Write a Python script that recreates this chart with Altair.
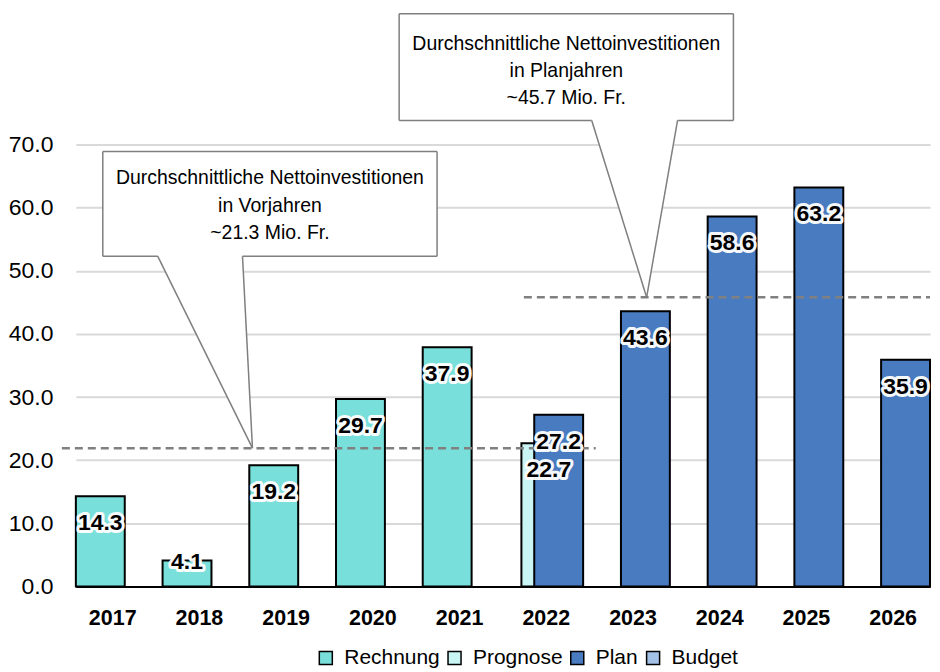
import altair as alt
import pandas as pd

# ---------------- data ----------------
years = ["2017", "2018", "2019", "2020", "2021", "2022", "2023", "2024", "2025", "2026"]
rechnung_years = ["2017", "2018", "2019", "2020", "2021"]
rechnung_values = [14.3, 4.1, 19.2, 29.7, 37.9]
prognose_years = ["2022"]
prognose_values = [22.7]
plan_years = ["2022", "2023", "2024", "2025", "2026"]
plan_values = [27.2, 43.6, 58.6, 63.2, 35.9]
series = ["Rechnung", "Prognose", "Plan", "Budget"]
series_colors = ["#79dfda", "#c9f6f4", "#497bc0", "#a3c0e6"]
y_ticks = [0, 10, 20, 30, 40, 50, 60, 70]
avg_prev_line = 21.9   # dashed line level
avg_plan_line = 45.8
callout_prev = ["Durchschnittliche Nettoinvestitionen", "in Vorjahren", "~21.3 Mio. Fr."]
callout_plan = ["Durchschnittliche Nettoinvestitionen", "in Planjahren", "~45.7 Mio. Fr."]

# ---------------- layout ----------------
W, H, YMAX = 856, 579, 91.5
BOLD = "Liberation Sans, Arial"
REG = "Liberation Sans, Arial"

def ypx(v):
    return H * (1 - v / YMAX)

bars_main = pd.DataFrame(
    {"year": rechnung_years, "value": rechnung_values, "series": "Rechnung", "slot": "L"}
)
bars_main = pd.concat([bars_main, pd.DataFrame(
    {"year": plan_years, "value": plan_values, "series": "Plan", "slot": "R"})], ignore_index=True)
bars_prog = pd.DataFrame(
    {"year": prognose_years, "value": prognose_values, "series": "Prognose", "slot": "L"})

x_enc = alt.X("year:N", scale=alt.Scale(domain=years, paddingInner=0.428, paddingOuter=0.139),
              axis=alt.Axis(title=None, labelAngle=0, ticks=False, domain=True, domainColor="black",
                            domainWidth=2, labelFont=BOLD, labelFontWeight="bold", labelFontSize=21.5,
                            labelColor="black", labelPadding=21, grid=False))
xo_enc = alt.XOffset("slot:N", scale=alt.Scale(domain=["L", "R"], paddingInner=0, paddingOuter=0))
y_scale = alt.Scale(domain=[0, YMAX], nice=False)
y_enc = alt.Y("value:Q", scale=y_scale,
              axis=alt.Axis(title=None, values=y_ticks, format=".1f", grid=True, gridColor="#d9d9d9",
                            gridWidth=2, domain=False, ticks=False, labelFont=REG, labelFontSize=23,
                            labelColor="black", labelPadding=23))
fill_enc = alt.Fill("series:N", scale=alt.Scale(domain=series, range=series_colors),
                    legend=alt.Legend(orient="none", legendX=240, legendY=640, direction="horizontal",
                                      title=None, symbolType="square", symbolSize=170,
                                      symbolStrokeColor="black", symbolStrokeWidth=1.5,
                                      labelFont=REG, labelFontSize=21, labelColor="black",
                                      columnPadding=4, labelOffset=8, padding=0))

prog_bar = alt.Chart(bars_prog).mark_bar(width=25, stroke="black", strokeWidth=2).encode(
    x=x_enc, xOffset=xo_enc, y=y_enc, fill=fill_enc)
main_bar = alt.Chart(bars_main).mark_bar(width=49, stroke="black", strokeWidth=2).encode(
    x=x_enc, xOffset=xo_enc, y=y_enc, fill=fill_enc)

# dashed average lines
avg_df = pd.DataFrame({"x1": [-14, 449], "x2": [521, 856], "v": [avg_prev_line, avg_plan_line]})
avg_rule = alt.Chart(avg_df).mark_rule(color="#808080", strokeWidth=2.5, strokeDash=[8, 5]).encode(
    x=alt.X("x1:Q", scale=None), x2="x2:Q", y=alt.Y("v:Q", scale=y_scale))

# value labels
def label_layers(df, dx=0):
    base = alt.Chart(df).transform_calculate(ly="max(datum.value, 8.2)").encode(
        x=x_enc, xOffset=xo_enc, y=alt.Y("ly:Q", scale=y_scale),
        text=alt.Text("value:Q", format=".1f"))
    halo = base.mark_text(dy=27, dx=dx, baseline="middle", font=BOLD, fontSize=23, fontWeight="bold",
                          stroke="white", strokeWidth=6, strokeJoin="round", fill="white", opacity=0.95)
    txt = base.mark_text(dy=27, dx=dx, baseline="middle", font=BOLD, fontSize=23, fontWeight="bold",
                         fill="black")
    return [halo, txt]

# callouts
def callout(bx1, bx2, by1, by2, base1, base2, tipx, v, lines, line_y, tx):
    tipy = ypx(v)
    box = alt.Chart(pd.DataFrame({"a": [bx1], "b": [bx2], "c": [by1], "d": [by2]})).mark_rect(
        fill="white", strokeWidth=0).encode(
        x=alt.X("a:Q", scale=None), x2="b:Q", y=alt.Y("c:Q", scale=None), y2="d:Q")
    tri = alt.Chart(pd.DataFrame({"py": [by2 - 1, tipy], "l": [base1, tipx], "r": [base2, tipx]})).mark_area(
        orient="horizontal", fill="white").encode(
        y=alt.Y("py:Q", scale=None), x=alt.X("l:Q", scale=None), x2="r:Q")
    segs = pd.DataFrame({
        "a": [bx1, bx1, bx2, bx1, base2, base1, base2],
        "b": [bx2, bx1, bx2, base1, bx2, tipx, tipx],
        "c": [by1, by1, by1, by2, by2, by2, by2],
        "d": [by1, by2, by2, by2, by2, tipy, tipy],
    })
    outline = alt.Chart(segs).mark_rule(color="#7f7f7f", strokeWidth=1.5).encode(
        x=alt.X("a:Q", scale=None), x2="b:Q", y=alt.Y("c:Q", scale=None), y2="d:Q")
    txt = alt.Chart(pd.DataFrame({"t": lines, "ty": line_y, "tx": [tx] * len(lines)})).mark_text(
        font=REG, fontSize=19.5, color="black", baseline="middle", align="center").encode(
        x=alt.X("tx:Q", scale=None), y=alt.Y("ty:Q", scale=None), text="t:N")
    return [box, tri, outline, txt]

layers = [prog_bar, main_bar, avg_rule]
layers += label_layers(bars_main)
layers += label_layers(bars_prog, dx=15)
layers += callout(27, 362, 143, 248, 82, 167, 177, avg_prev_line, callout_prev, [170, 198, 225], 194.5)
layers += callout(324, 659, 5, 112, 517, 603, 572, avg_plan_line, callout_plan, [35, 62, 89], 491.5)

chart = alt.layer(*layers).properties(width=W, height=H, padding=0, background="white").configure_view(
    stroke=None)

chart.save("out.html", embed_options={"renderer": "svg", "actions": False})
